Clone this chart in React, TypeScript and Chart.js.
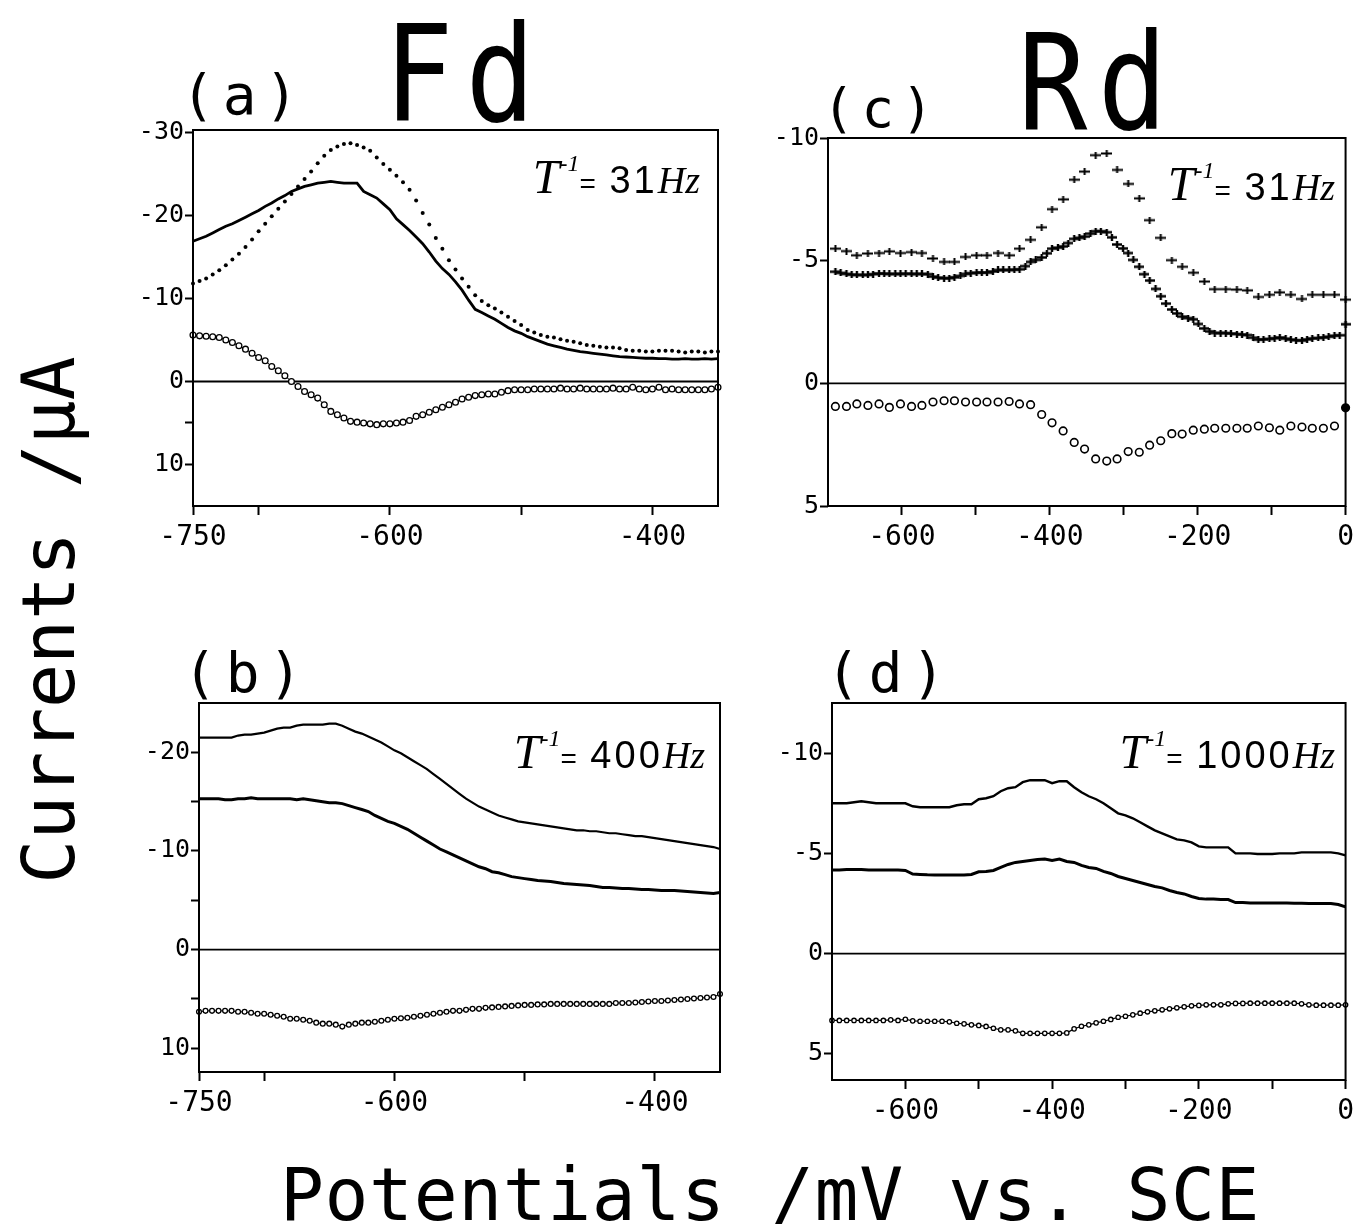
import React, { useEffect, useRef } from 'react';
import { Chart, registerables } from 'chart.js';

Chart.register(...registerables);

const MONO = '"DejaVu Sans Mono", "Liberation Mono", monospace';
const SANS = '"Liberation Sans", Arial, sans-serif';
const SERIF = '"Liberation Serif", "DejaVu Serif", serif';

// ---------- Fd panels (a) and (b): potentials in mV ----------
const potentialsFd = [
  -750, -745, -740, -735, -730, -725, -720, -715, -710, -705,
  -700, -695, -690, -685, -680, -675, -670, -665, -660, -655,
  -650, -645, -640, -635, -630, -625, -620, -615, -610, -605,
  -600, -595, -590, -585, -580, -575, -570, -565, -560, -555,
  -550, -545, -540, -535, -530, -525, -520, -515, -510, -505,
  -500, -495, -490, -485, -480, -475, -470, -465, -460, -455,
  -450, -445, -440, -435, -430, -425, -420, -415, -410, -405,
  -400, -395, -390, -385, -380, -375, -370, -365, -360, -355,
  -350,
];

// (a) 31 Hz
const fd31Solid = [
  -16.9, -17.2, -17.5, -17.9, -18.3, -18.7, -19.0, -19.4, -19.8, -20.2,
  -20.6, -21.1, -21.5, -22.0, -22.4, -22.9, -23.2, -23.5, -23.7, -23.9,
  -24.0, -24.1, -24.0, -23.9, -23.9, -23.9, -22.9, -22.5, -22.1, -21.4,
  -20.7, -19.6, -18.9, -18.2, -17.4, -16.6, -15.6, -14.5, -13.6, -12.9,
  -12.0, -11.0, -9.8, -8.7, -8.3, -7.9, -7.5, -7.0, -6.5, -6.1,
  -5.8, -5.4, -5.1, -4.8, -4.5, -4.3, -4.1, -3.9, -3.75, -3.6,
  -3.5, -3.4, -3.3, -3.2, -3.1, -3.0, -2.95, -2.9, -2.85, -2.8,
  -2.8, -2.75, -2.75, -2.7, -2.7, -2.75, -2.7, -2.7, -2.75, -2.7,
  -2.75,
];
const fd31Dotted = [
  -11.8, -12.1, -12.4, -12.9, -13.4, -14.0, -14.7, -15.4, -16.2, -17.1,
  -18.1, -19.0, -19.9, -20.8, -21.7, -22.6, -23.5, -24.4, -25.3, -26.3,
  -27.2, -27.9, -28.3, -28.6, -28.7, -28.5, -28.2, -27.8, -27.0, -26.2,
  -25.5, -24.8, -24.0, -23.1, -21.8, -20.3, -18.9, -17.3, -16.0, -14.6,
  -13.5, -12.4, -11.4, -10.4, -9.7, -9.2, -8.8, -8.3, -7.8, -7.3,
  -6.8, -6.2, -5.9, -5.6, -5.4, -5.3, -5.1, -4.9, -4.8, -4.6,
  -4.4, -4.3, -4.2, -4.1, -4.1, -4.0, -3.8, -3.7, -3.7, -3.6,
  -3.6, -3.7, -3.7, -3.7, -3.6, -3.5, -3.6, -3.6, -3.5, -3.6,
  -3.6,
];
const fd31Circles = [
  -5.6, -5.5, -5.45, -5.4, -5.3, -5.0, -4.7, -4.3, -3.9, -3.4,
  -2.9, -2.5, -1.8, -1.3, -0.7, 0.0, 0.6, 1.2, 1.6, 2.0,
  2.8, 3.6, 4.0, 4.4, 4.8, 4.9, 5.0, 5.1, 5.2, 5.1,
  5.1, 5.0, 4.9, 4.7, 4.2, 4.0, 3.7, 3.4, 3.1, 2.8,
  2.5, 2.1, 1.9, 1.7, 1.6, 1.5, 1.5, 1.3, 1.1, 1.0,
  1.0, 1.0, 0.9, 0.9, 0.9, 0.9, 0.8, 0.9, 0.9, 0.8,
  0.9, 0.9, 0.9, 0.9, 0.8, 0.9, 0.9, 0.7, 0.9, 1.0,
  0.9, 0.7, 1.0, 0.9, 1.0, 1.0, 1.0, 1.0, 1.0, 0.9,
  0.7,
];

// (b) 400 Hz
const fd400Upper = [
  -21.5, -21.5, -21.5, -21.5, -21.5, -21.5, -21.7, -21.8, -21.8, -21.9,
  -22.0, -22.2, -22.4, -22.5, -22.5, -22.7, -22.8, -22.8, -22.8, -22.8,
  -22.9, -22.9, -22.7, -22.4, -22.1, -21.9, -21.6, -21.3, -21.0, -20.6,
  -20.2, -19.9, -19.5, -19.1, -18.7, -18.3, -17.8, -17.3, -16.8, -16.3,
  -15.8, -15.3, -14.9, -14.5, -14.2, -13.9, -13.6, -13.4, -13.2, -13.0,
  -12.9, -12.8, -12.7, -12.6, -12.5, -12.4, -12.3, -12.2, -12.1, -12.1,
  -12.0, -12.0, -11.9, -11.8, -11.8, -11.7, -11.6, -11.5, -11.5, -11.4,
  -11.3, -11.2, -11.1, -11.0, -10.9, -10.8, -10.7, -10.6, -10.5, -10.4,
  -10.2,
];
const fd400Middle = [
  -15.3, -15.3, -15.3, -15.3, -15.2, -15.2, -15.3, -15.3, -15.4, -15.3,
  -15.3, -15.3, -15.3, -15.3, -15.3, -15.2, -15.3, -15.2, -15.1, -15.0,
  -14.9, -14.9, -14.8, -14.6, -14.4, -14.2, -14.0, -13.6, -13.3, -13.0,
  -12.8, -12.5, -12.2, -11.8, -11.4, -11.0, -10.6, -10.2, -9.9, -9.6,
  -9.3, -9.0, -8.7, -8.4, -8.2, -7.9, -7.8, -7.6, -7.4, -7.3,
  -7.2, -7.1, -7.0, -6.95, -6.9, -6.8, -6.7, -6.65, -6.6, -6.55,
  -6.5, -6.4, -6.3, -6.3, -6.25, -6.2, -6.2, -6.15, -6.1, -6.1,
  -6.05, -6.0, -6.0, -6.0, -5.95, -5.9, -5.85, -5.8, -5.75, -5.7,
  -5.8,
];
const fd400Circles = [
  6.3, 6.2, 6.2, 6.2, 6.2, 6.2, 6.3, 6.3, 6.4, 6.5,
  6.5, 6.6, 6.7, 6.8, 7.0, 7.0, 7.1, 7.2, 7.4, 7.5,
  7.5, 7.6, 7.8, 7.6, 7.5, 7.4, 7.4, 7.3, 7.2, 7.1,
  7.0, 6.95, 6.9, 6.8, 6.7, 6.6, 6.5, 6.4, 6.3, 6.2,
  6.2, 6.1, 6.0, 6.0, 5.9, 5.85, 5.8, 5.75, 5.7, 5.65,
  5.6, 5.6, 5.55, 5.55, 5.5, 5.5, 5.5, 5.5, 5.5, 5.5,
  5.5, 5.5, 5.5, 5.5, 5.4, 5.4, 5.4, 5.35, 5.3, 5.25,
  5.2, 5.2, 5.15, 5.1, 5.05, 5.0, 4.95, 4.9, 4.85, 4.8,
  4.5,
];

// ---------- Rd panel (c) 31 Hz ----------
const potentialsRdC = [
  -690, -675, -661, -646, -631, -617, -602, -587, -573, -558,
  -543, -529, -514, -499, -485, -470, -455, -441, -426, -411,
  -397, -382, -367, -353, -338, -323, -309, -294, -279, -265,
  -250, -235, -221, -206, -191, -177, -162, -147, -133, -118,
  -103, -89, -74, -59, -45, -30, -15, 0,
];
const rd31Plus = [
  -5.49, -5.39, -5.22, -5.29, -5.31, -5.38, -5.31, -5.35, -5.31, -5.09,
  -4.95, -4.95, -5.15, -5.22, -5.22, -5.31, -5.22, -5.49, -5.85, -6.36,
  -7.10, -7.50, -8.30, -8.63, -9.30, -9.37, -8.70, -8.13, -7.54, -6.65,
  -5.93, -5.02, -4.75, -4.51, -4.15, -3.84, -3.84, -3.82, -3.79, -3.52,
  -3.61, -3.71, -3.61, -3.44, -3.61, -3.61, -3.61, -3.41,
];
const rd31Circles = [
  0.94, 0.94, 0.84, 0.90, 0.84, 0.98, 0.84, 0.94, 0.90, 0.76,
  0.71, 0.71, 0.76, 0.76, 0.76, 0.76, 0.74, 0.84, 0.87, 1.27,
  1.61, 1.94, 2.41, 2.68, 3.08, 3.17, 3.08, 2.78, 2.81, 2.52,
  2.34, 2.05, 2.07, 1.91, 1.87, 1.83, 1.83, 1.83, 1.83, 1.74,
  1.81, 1.91, 1.74, 1.78, 1.83, 1.83, 1.74, 1.00,
];
const potentialsRdCDense = [
  -690, -683, -675, -668, -661, -653, -646, -639, -631, -624,
  -617, -609, -602, -595, -587, -580, -573, -565, -558, -551,
  -543, -536, -529, -521, -514, -507, -499, -492, -485, -477,
  -470, -463, -455, -448, -441, -433, -426, -419, -411, -404,
  -397, -389, -382, -375, -367, -360, -353, -345, -338, -331,
  -323, -316, -309, -301, -294, -287, -279, -272, -265, -257,
  -250, -243, -235, -228, -221, -213, -206, -199, -191, -184,
  -177, -169, -162, -155, -147, -140, -133, -125, -118, -111,
  -103, -96, -89, -81, -74, -67, -59, -52, -45, -37,
  -30, -23, -15, -8, 0,
];
const rd31Star = [
  -4.55, -4.50, -4.46, -4.43, -4.42, -4.42, -4.42, -4.45, -4.48, -4.47,
  -4.46, -4.46, -4.46, -4.47, -4.46, -4.46, -4.46, -4.45, -4.35, -4.31,
  -4.28, -4.29, -4.32, -4.38, -4.46, -4.49, -4.51, -4.52, -4.51, -4.56,
  -4.62, -4.62, -4.62, -4.63, -4.65, -4.78, -4.95, -5.03, -5.13, -5.30,
  -5.49, -5.53, -5.58, -5.72, -5.89, -5.93, -5.98, -6.10, -6.20, -6.20,
  -6.16, -5.95, -5.66, -5.50, -5.31, -5.03, -4.75, -4.45, -4.19, -3.85,
  -3.55, -3.25, -3.01, -2.85, -2.72, -2.66, -2.61, -2.42, -2.24, -2.12,
  -2.05, -2.05, -2.05, -2.03, -2.01, -1.99, -1.97, -1.86, -1.78, -1.79,
  -1.81, -1.84, -1.87, -1.82, -1.78, -1.76, -1.74, -1.79, -1.83, -1.85,
  -1.87, -1.90, -1.94, -1.96, -2.41,
];

// ---------- Rd panel (d) 1000 Hz ----------
const potentialsRdD = [
  -700, -690, -680, -670, -660, -650, -640, -630, -620, -610,
  -600, -590, -580, -570, -560, -550, -540, -530, -520, -510,
  -500, -490, -480, -470, -460, -450, -440, -430, -420, -410,
  -400, -390, -380, -370, -360, -350, -340, -330, -320, -310,
  -300, -290, -280, -270, -260, -250, -240, -230, -220, -210,
  -200, -190, -180, -170, -160, -150, -140, -130, -120, -110,
  -100, -90, -80, -70, -60, -50, -40, -30, -20, -10,
  0,
];
const rd1000Upper = [
  -7.5, -7.5, -7.5, -7.55, -7.6, -7.55, -7.5, -7.5, -7.5, -7.5,
  -7.5, -7.35, -7.3, -7.3, -7.3, -7.3, -7.3, -7.4, -7.45, -7.45,
  -7.7, -7.75, -7.85, -8.1, -8.25, -8.3, -8.55, -8.65, -8.65, -8.65,
  -8.5, -8.6, -8.6, -8.3, -8.05, -7.85, -7.7, -7.5, -7.25, -7.0,
  -6.9, -6.75, -6.55, -6.35, -6.15, -6.0, -5.85, -5.7, -5.65, -5.55,
  -5.35, -5.3, -5.3, -5.3, -5.3, -5.0, -5.0, -5.0, -4.97, -4.97,
  -4.97, -5.0, -5.0, -5.0, -5.05, -5.05, -5.05, -5.05, -5.05, -5.0,
  -4.9,
];
const rd1000Middle = [
  -4.17, -4.17, -4.2, -4.2, -4.2, -4.17, -4.17, -4.17, -4.17, -4.17,
  -4.15, -3.97, -3.95, -3.93, -3.92, -3.92, -3.92, -3.92, -3.92, -3.95,
  -4.08, -4.1, -4.15, -4.3, -4.45, -4.55, -4.6, -4.65, -4.7, -4.72,
  -4.65, -4.72, -4.6, -4.55, -4.4, -4.3, -4.25, -4.1, -4.0, -3.85,
  -3.75, -3.65, -3.55, -3.45, -3.35, -3.28, -3.15, -3.05, -2.98, -2.85,
  -2.75, -2.72, -2.72, -2.7, -2.7, -2.55, -2.55, -2.53, -2.53, -2.53,
  -2.53, -2.53, -2.53, -2.52, -2.52, -2.5, -2.5, -2.5, -2.5, -2.45,
  -2.33,
];
const rd1000Circles = [
  3.33, 3.33, 3.33, 3.33, 3.33, 3.33, 3.33, 3.33, 3.3, 3.33,
  3.27, 3.35, 3.37, 3.37, 3.37, 3.37, 3.4, 3.47, 3.5, 3.55,
  3.58, 3.63, 3.72, 3.8, 3.8, 3.85, 3.97, 3.97, 3.97, 3.97,
  3.97, 3.97, 3.95, 3.75, 3.62, 3.55, 3.45, 3.37, 3.28, 3.17,
  3.12, 3.05, 2.97, 2.9, 2.85, 2.8, 2.75, 2.7, 2.65, 2.6,
  2.58, 2.55, 2.55, 2.55, 2.5, 2.48, 2.48, 2.47, 2.47, 2.47,
  2.47, 2.47, 2.47, 2.47, 2.5, 2.55, 2.57, 2.57, 2.57, 2.57,
  2.55,
];

// ---------- Tick values and labels ----------
const xTicksFd = [-750, -700, -600, -500, -400];
const xLabelsFd = [-750, -600, -400];
const xTicksRd = [-600, -500, -400, -300, -200, -100, 0];
const xLabelsRd = [-600, -400, -200, 0];
const yTicksA = [-30, -20, -10, 0, 5, 10];
const yLabelsA = [-30, -20, -10, 0, 10];
const yTicksB = [-20, -15, -10, -5, 0, 5, 10];
const yLabelsB = [-20, -10, 0, 10];
const yTicksRd = [-10, -5, 0, 5];
const yLabelsRd = [-10, -5, 0, 5];

const xy = (xs: number[], ys: number[]) => xs.map((x, i) => ({ x, y: ys[i] }));

const AXIS_W = 100;
const AXIS_H = 70;
const PAD_T = 20;
const PAD_R = 10;

function plusMark(w: number, h: number, lw: number) {
  const c = document.createElement('canvas');
  c.width = w;
  c.height = h;
  const g = c.getContext('2d')!;
  g.fillStyle = '#000';
  g.fillRect(0, (h - lw) / 2, w, lw);
  g.fillRect((w - lw) / 2, 0, lw, h);
  return c;
}

const solidLine = (data: any[], width: number) => ({
  data, showLine: true, borderColor: '#000', borderWidth: width, pointRadius: 0, clip: 6,
});
const dotSeries = (data: any[], r: number) => ({
  data, showLine: false, pointRadius: r, pointStyle: 'circle', pointBackgroundColor: '#000',
  pointBorderColor: '#000', pointBorderWidth: 0, clip: 6,
});
const circleSeries = (data: any[], r: number, line: number) => ({
  data, showLine: line > 0, borderColor: '#000', borderWidth: line, pointRadius: r,
  pointStyle: 'circle', pointBackgroundColor: '#fff', pointBorderColor: '#000',
  pointBorderWidth: 1.3, clip: 6,
});

type PanelSpec = {
  id: string;
  l: number; t: number; w: number; h: number;
  xMin: number; xMax: number; yMin: number; yMax: number;
  xTicks: number[]; xLabels: number[]; yTicks: number[]; yLabels: number[];
  makeDatasets: () => any[];
};

const panels: PanelSpec[] = [
  {
    id: 'a', l: 193, t: 130, w: 525, h: 376,
    xMin: -750, xMax: -350, yMin: -30.3, yMax: 15,
    xTicks: xTicksFd, xLabels: xLabelsFd, yTicks: yTicksA, yLabels: yLabelsA,
    makeDatasets: () => [
      solidLine(xy(potentialsFd, fd31Solid), 2.8),
      dotSeries(xy(potentialsFd, fd31Dotted), 2),
      circleSeries(xy(potentialsFd, fd31Circles), 2.9, 1),
    ],
  },
  {
    id: 'b', l: 199, t: 703, w: 521, h: 369,
    xMin: -750, xMax: -350, yMin: -25, yMax: 12.4,
    xTicks: xTicksFd, xLabels: xLabelsFd, yTicks: yTicksB, yLabels: yLabelsB,
    makeDatasets: () => [
      solidLine(xy(potentialsFd, fd400Upper), 2.2),
      solidLine(xy(potentialsFd, fd400Middle), 3),
      circleSeries(xy(potentialsFd, fd400Circles), 2.4, 1),
    ],
  },
  {
    id: 'c', l: 828, t: 138, w: 522, h: 368,
    xMin: -700, xMax: 0, yMin: -10, yMax: 5,
    xTicks: xTicksRd, xLabels: xLabelsRd, yTicks: yTicksRd, yLabels: yLabelsRd,
    makeDatasets: () => {
      const plusA = plusMark(11, 7, 2);
      const plusB = plusMark(10, 7, 2.4);
      const last = potentialsRdC.length - 1;
      return [
        { data: xy(potentialsRdC, rd31Plus), showLine: false, pointStyle: plusA, pointRadius: 5, clip: 10 },
        { data: xy(potentialsRdCDense, rd31Star), showLine: false, pointStyle: plusB, pointRadius: 5, clip: 10 },
        {
          data: xy(potentialsRdC, rd31Circles), showLine: false, pointRadius: 3.8, pointStyle: 'circle',
          pointBackgroundColor: (c: any) => (c.dataIndex === last ? '#000' : '#fff'),
          pointBorderColor: '#000', pointBorderWidth: 1.6, clip: 10,
        },
      ];
    },
  },
  {
    id: 'd', l: 832, t: 703, w: 518, h: 377,
    xMin: -700, xMax: 0, yMin: -12.5, yMax: 6.3,
    xTicks: xTicksRd, xLabels: xLabelsRd, yTicks: yTicksRd, yLabels: yLabelsRd,
    makeDatasets: () => [
      solidLine(xy(potentialsRdD, rd1000Upper), 2.4),
      solidLine(xy(potentialsRdD, rd1000Middle), 3),
      circleSeries(xy(potentialsRdD, rd1000Circles), 2.2, 1.2),
    ],
  },
];

const framePlugin = {
  id: 'frameBox',
  beforeDatasetsDraw(chart: any) {
    const { ctx, chartArea: a, scales } = chart;
    const y0 = scales.y.getPixelForValue(0);
    ctx.save();
    ctx.strokeStyle = '#000';
    ctx.lineWidth = 1.8;
    ctx.beginPath();
    ctx.moveTo(a.left, y0);
    ctx.lineTo(a.right, y0);
    ctx.stroke();
    ctx.restore();
  },
  afterDatasetsDraw(chart: any) {
    const { ctx, chartArea: a } = chart;
    ctx.save();
    ctx.strokeStyle = '#000';
    ctx.lineWidth = 2;
    ctx.strokeRect(a.left, a.top, a.right - a.left, a.bottom - a.top);
    ctx.restore();
  },
};

function Panel({ spec }: { spec: PanelSpec }) {
  const ref = useRef<HTMLCanvasElement>(null);
  const cw = spec.w + AXIS_W + PAD_R;
  const ch = spec.h + PAD_T + AXIS_H;
  useEffect(() => {
    const canvas = ref.current!;
    const chart = new Chart(canvas, {
      type: 'scatter',
      data: { datasets: spec.makeDatasets() },
      options: {
        responsive: false,
        animation: false,
        devicePixelRatio: 1,
        layout: { padding: { top: PAD_T, right: PAD_R, left: 0, bottom: 0 } },
        plugins: { legend: { display: false }, tooltip: { enabled: false } },
        events: [],
        scales: {
          x: {
            type: 'linear',
            min: spec.xMin,
            max: spec.xMax,
            afterFit: (s: any) => { s.height = AXIS_H; },
            afterBuildTicks: (s: any) => { s.ticks = spec.xTicks.map((v) => ({ value: v })); },
            grid: { display: true, drawOnChartArea: false, drawTicks: true, tickLength: 9, tickWidth: 2, tickColor: '#000', color: '#000' },
            border: { display: false },
            ticks: {
              autoSkip: false, maxRotation: 0, minRotation: 0, padding: 6, color: '#000',
              font: { family: MONO, size: 28 },
              callback: (v: any) => (spec.xLabels.includes(Number(v)) ? String(v) : ''),
            },
          },
          y: {
            type: 'linear',
            reverse: true,
            min: spec.yMin,
            max: spec.yMax,
            afterFit: (s: any) => { s.width = AXIS_W; },
            afterBuildTicks: (s: any) => { s.ticks = spec.yTicks.map((v) => ({ value: v })); },
            grid: { display: true, drawOnChartArea: false, drawTicks: true, tickLength: 8, tickWidth: 2, tickColor: '#000', color: '#000' },
            border: { display: false },
            ticks: {
              autoSkip: false, padding: 1, color: '#000',
              font: { family: MONO, size: 25 },
              callback: (v: any) => (spec.yLabels.includes(Number(v)) ? String(v) : ''),
            },
          },
        },
      } as any,
      plugins: [framePlugin],
    });
    return () => chart.destroy();
  }, []);
  return (
    <canvas
      ref={ref}
      width={cw}
      height={ch}
      style={{ position: 'absolute', left: spec.l - AXIS_W, top: spec.t - PAD_T, width: cw, height: ch }}
    />
  );
}

function Txt(props: { x: number; base: number; size: number; family?: string; style?: any; children: any }) {
  const { x, base, size, family = MONO, style, children } = props;
  return (
    <div
      style={{
        position: 'absolute', left: x, top: base - 0.846 * size, fontFamily: family, fontSize: size,
        lineHeight: `${size}px`, whiteSpace: 'nowrap', color: '#000', ...style,
      }}
    >
      {children}
    </div>
  );
}

function TauLabel({ right, base, hz }: { right: number; base: number; hz: string }) {
  const size = 38;
  return (
    <div
      style={{
        position: 'absolute', left: right, top: base - 0.846 * size, transform: 'translateX(-100%)',
        fontFamily: SANS, fontSize: size, lineHeight: `${size}px`, whiteSpace: 'nowrap', color: '#000',
      }}
    >
      <span style={{ fontFamily: SERIF, fontStyle: 'italic', fontSize: 48 }}>T</span>
      <span style={{ fontFamily: SERIF, fontStyle: 'italic', fontSize: 24, position: 'relative', top: -22 }}>-1</span>
      <span style={{ fontSize: 28 }}>=</span>
      <span style={{ letterSpacing: 3 }}> {hz}</span>
      <span style={{ fontFamily: SERIF, fontStyle: 'italic' }}>Hz</span>
    </div>
  );
}

export default function App() {
  return (
    <div style={{ position: 'absolute', left: 0, top: 0, width: 1361, height: 1224, background: '#fff', overflow: 'hidden' }}>
      {panels.map((p) => (
        <Panel key={p.id} spec={p} />
      ))}
      <Txt x={181} base={114} size={56} style={{ letterSpacing: 8 }}>(a)</Txt>
      <Txt x={822} base={128} size={54} style={{ letterSpacing: 7 }}>(c)</Txt>
      <Txt x={183} base={692} size={56} style={{ letterSpacing: 9 }}>(b)</Txt>
      <Txt x={826} base={692} size={56} style={{ letterSpacing: 9 }}>(d)</Txt>
      <Txt x={384} base={121} size={134} style={{ letterSpacing: 14, transform: 'scaleX(0.86)', transformOrigin: 'left center' }}>Fd</Txt>
      <Txt x={1018} base={129} size={134} style={{ letterSpacing: 12, transform: 'scaleX(0.86)', transformOrigin: 'left center' }}>Rd</Txt>
      <TauLabel right={700} base={190} hz="31" />
      <TauLabel right={1335} base={197} hz="31" />
      <TauLabel right={705} base={765} hz="400" />
      <TauLabel right={1335} base={765} hz="1000" />
      <div
        style={{
          position: 'absolute', left: 48, top: 620, transform: 'translate(-50%, -50%) rotate(-90deg)',
          fontFamily: MONO, fontSize: 73, lineHeight: '73px', whiteSpace: 'nowrap', color: '#000',
        }}
      >
        Currents /μA
      </div>
      <Txt x={280} base={1220} size={73} style={{ letterSpacing: 0.6 }}>Potentials /mV vs. SCE</Txt>
    </div>
  );
}
